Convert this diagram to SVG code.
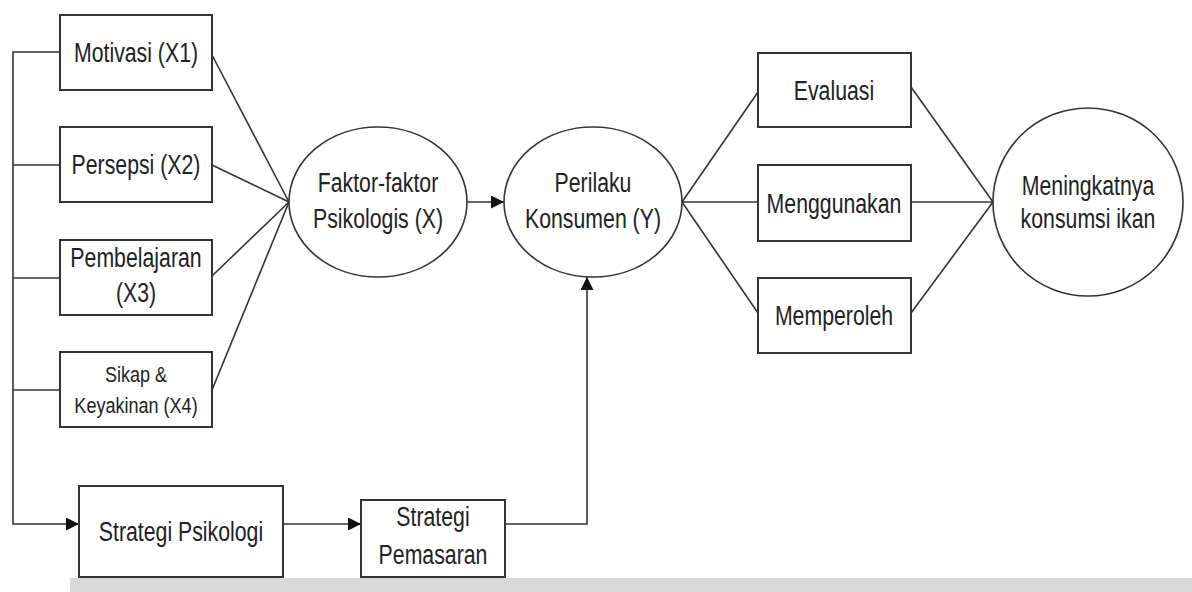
<svg xmlns="http://www.w3.org/2000/svg" width="1192" height="592" viewBox="0 0 1192 592">
  <style>
    .box { fill: #ffffff; stroke: #333333; stroke-width: 2; }
    .ell { fill: #ffffff; stroke: #333333; stroke-width: 1.6; }
    .ln  { fill: none; stroke: #333333; stroke-width: 1.6; }
    .lbl { font-family: "Liberation Sans", Arial, sans-serif; font-size: 28px; fill: #222222; text-anchor: middle; }
    .sm  { font-size: 22px; }
  </style>
  <defs>
    <marker id="arrow" viewBox="0 0 10 10" refX="10" refY="5" markerWidth="16" markerHeight="13" markerUnits="userSpaceOnUse" orient="auto">
      <path d="M0,0 L10,5 L0,10 Z" fill="#111111"/>
    </marker>
  </defs>

  <rect x="0" y="0" width="1192" height="592" fill="#ffffff"/>
  <!-- grey strip along the bottom edge -->
  <rect x="70" y="578" width="1122" height="14" fill="#d9d9d9"/>

  <g id="connectors">
    <!-- bus on the left feeding the four factors and the strategy -->
    <polyline class="ln" points="60,52 13,52 13,524 79,524" marker-end="url(#arrow)"/>
    <line class="ln" x1="13" y1="165" x2="60" y2="165"/>
    <line class="ln" x1="13" y1="278" x2="60" y2="278"/>
    <line class="ln" x1="13" y1="390" x2="60" y2="390"/>
    <!-- factors into the psychological-factor ellipse -->
    <line class="ln" x1="212" y1="55" x2="289" y2="202"/>
    <line class="ln" x1="212" y1="165" x2="289" y2="202"/>
    <line class="ln" x1="212" y1="276" x2="289" y2="202"/>
    <line class="ln" x1="212" y1="390" x2="289" y2="202"/>
    <!-- X to Y -->
    <line class="ln" x1="467" y1="202" x2="504" y2="202" marker-end="url(#arrow)"/>
    <!-- Y to the three activities -->
    <line class="ln" x1="682" y1="202" x2="758" y2="92"/>
    <line class="ln" x1="682" y1="202" x2="758" y2="202"/>
    <line class="ln" x1="682" y1="202" x2="758" y2="313"/>
    <!-- activities to the outcome -->
    <line class="ln" x1="911" y1="87" x2="993" y2="202"/>
    <line class="ln" x1="911" y1="202" x2="993" y2="202"/>
    <line class="ln" x1="911" y1="313" x2="993" y2="202"/>
    <!-- strategy chain -->
    <line class="ln" x1="283" y1="524" x2="361" y2="524" marker-end="url(#arrow)"/>
    <polyline class="ln" points="505,524 587,524 587,277" marker-end="url(#arrow)"/>
  </g>

  <g id="motivasi">
    <rect class="box" x="60" y="15" width="152" height="75"/>
    <text class="lbl" transform="translate(136,62) scale(0.76,1)">Motivasi (X1)</text>
  </g>
  <g id="persepsi">
    <rect class="box" x="60" y="127" width="152" height="75"/>
    <text class="lbl" transform="translate(136,174) scale(0.76,1)">Persepsi (X2)</text>
  </g>
  <g id="pembelajaran">
    <rect class="box" x="60" y="240" width="152" height="75"/>
    <text class="lbl" transform="translate(136,267) scale(0.76,1)">Pembelajaran</text>
    <text class="lbl" transform="translate(136,302) scale(0.76,1)">(X3)</text>
  </g>
  <g id="sikap">
    <rect class="box" x="60" y="352" width="152" height="75"/>
    <text class="lbl sm" transform="translate(136,382) scale(0.82,1)">Sikap &amp;</text>
    <text class="lbl sm" transform="translate(136,413) scale(0.82,1)">Keyakinan (X4)</text>
  </g>
  <g id="faktor-psikologis">
    <ellipse class="ell" cx="378" cy="202" rx="89" ry="75"/>
    <text class="lbl" transform="translate(378,192) scale(0.76,1)">Faktor-faktor</text>
    <text class="lbl" transform="translate(378,228) scale(0.76,1)">Psikologis (X)</text>
  </g>
  <g id="perilaku-konsumen">
    <ellipse class="ell" cx="593" cy="202" rx="89" ry="75"/>
    <text class="lbl" transform="translate(593,192) scale(0.76,1)">Perilaku</text>
    <text class="lbl" transform="translate(593,228) scale(0.76,1)">Konsumen (Y)</text>
  </g>
  <g id="evaluasi">
    <rect class="box" x="758" y="53" width="153" height="74"/>
    <text class="lbl" transform="translate(834,100) scale(0.76,1)">Evaluasi</text>
  </g>
  <g id="menggunakan">
    <rect class="box" x="758" y="165" width="153" height="76"/>
    <text class="lbl" transform="translate(834,213) scale(0.76,1)">Menggunakan</text>
  </g>
  <g id="memperoleh">
    <rect class="box" x="758" y="278" width="153" height="75"/>
    <text class="lbl" transform="translate(834,325) scale(0.76,1)">Memperoleh</text>
  </g>
  <g id="meningkatnya">
    <ellipse class="ell" cx="1088" cy="202" rx="95" ry="94"/>
    <text class="lbl" transform="translate(1088,195) scale(0.76,1)">Meningkatnya</text>
    <text class="lbl" transform="translate(1088,228) scale(0.76,1)">konsumsi ikan</text>
  </g>
  <g id="strategi-psikologi">
    <rect class="box" x="79" y="486" width="204" height="91"/>
    <text class="lbl" transform="translate(181,541) scale(0.76,1)">Strategi Psikologi</text>
  </g>
  <g id="strategi-pemasaran">
    <rect class="box" x="361" y="500" width="144" height="77"/>
    <text class="lbl" transform="translate(433,526) scale(0.76,1)">Strategi</text>
    <text class="lbl" transform="translate(433,564) scale(0.76,1)">Pemasaran</text>
  </g>
</svg>
